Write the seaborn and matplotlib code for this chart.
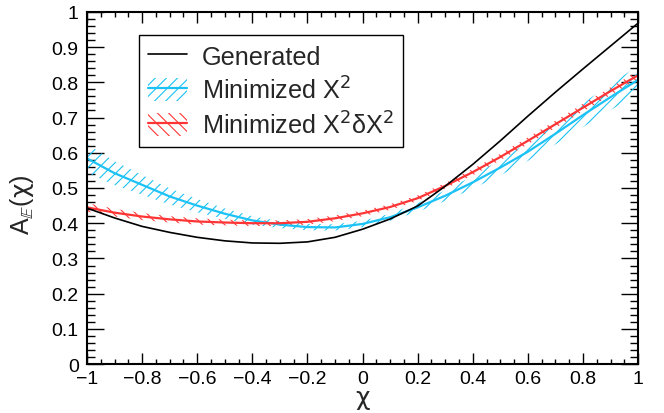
import numpy as np
import pandas as pd
import seaborn as sns
import matplotlib.pyplot as plt
from matplotlib.patches import Patch
from matplotlib.lines import Line2D
from matplotlib.ticker import MultipleLocator

# values
chi = [-1.0, -0.9, -0.8, -0.7, -0.6, -0.5, -0.4, -0.3, -0.2, -0.1, 0.0,
       0.1, 0.2, 0.3, 0.4, 0.5, 0.6, 0.7, 0.8, 0.9, 1.0]
generated = [0.443, 0.415, 0.391, 0.374, 0.360, 0.350, 0.344, 0.343, 0.347, 0.360, 0.383,
             0.412, 0.449, 0.505, 0.567, 0.634, 0.704, 0.772, 0.838, 0.903, 0.968]
min_x2 = [0.584, 0.542, 0.509, 0.476, 0.450, 0.427, 0.408, 0.396, 0.389, 0.388, 0.398,
          0.417, 0.445, 0.478, 0.516, 0.558, 0.603, 0.654, 0.707, 0.758, 0.807]
min_x2_err = [0.040, 0.034, 0.028, 0.023, 0.019, 0.015, 0.012, 0.010, 0.009, 0.009, 0.009,
              0.010, 0.012, 0.015, 0.018, 0.022, 0.026, 0.030, 0.034, 0.037, 0.040]
min_x2dx2 = [0.445, 0.430, 0.419, 0.411, 0.405, 0.402, 0.400, 0.400, 0.404, 0.414, 0.428,
             0.446, 0.471, 0.506, 0.545, 0.588, 0.634, 0.681, 0.728, 0.775, 0.820]
min_x2dx2_err = [0.012, 0.011, 0.010, 0.009, 0.009, 0.008, 0.008, 0.008, 0.008, 0.008, 0.008,
                 0.008, 0.008, 0.008, 0.009, 0.009, 0.010, 0.010, 0.011, 0.011, 0.012]

xticks = [-1, -0.8, -0.6, -0.4, -0.2, 0, 0.2, 0.4, 0.6, 0.8, 1]
xtick_labels = ['\u22121', '\u22120.8', '\u22120.6', '\u22120.4', '\u22120.2', '0',
                '0.2', '0.4', '0.6', '0.8', '1']
yticks = [0, 0.1, 0.2, 0.3, 0.4, 0.5, 0.6, 0.7, 0.8, 0.9, 1]
ytick_labels = ['0', '0.1', '0.2', '0.3', '0.4', '0.5', '0.6', '0.7', '0.8', '0.9', '1']

df = pd.DataFrame({'chi': chi, 'gen': generated, 'x2': min_x2, 'x2e': min_x2_err,
                   'xd': min_x2dx2, 'xde': min_x2dx2_err})

sns.set_style('ticks')
plt.rcParams['font.family'] = ['Liberation Sans', 'DejaVu Sans']
plt.rcParams['mathtext.fontset'] = 'dejavusans'
plt.rcParams['hatch.linewidth'] = 0.8

cyan = '#1cc2f5'
red = '#ff3535'
hatch_c = '///'
hatch_r = '\\\\\\'

fig = plt.figure(figsize=(6.64, 4.14), dpi=100)
ax = fig.add_axes([0.131, 0.118, 0.830, 0.851])

# hatched error bands
ax.fill_between(df.chi, df.x2 - df.x2e, df.x2 + df.x2e, facecolor='none',
                edgecolor=cyan, hatch=hatch_c, linewidth=0)
ax.fill_between(df.chi, df.xd - df.xde, df.xd + df.xde, facecolor='none',
                edgecolor=red, hatch=hatch_r, linewidth=0)

sns.lineplot(data=df, x='chi', y='x2', ax=ax, color=cyan, lw=1.6)
sns.lineplot(data=df, x='chi', y='xd', ax=ax, color=red, lw=1.6)
sns.lineplot(data=df, x='chi', y='gen', ax=ax, color='black', lw=1.2)

ax.set_xlim(-1, 1)
ax.set_ylim(0, 1)
ax.set_xticks(xticks, xtick_labels)
ax.set_yticks(yticks, ytick_labels)
ax.xaxis.set_minor_locator(MultipleLocator(0.05))
ax.yaxis.set_minor_locator(MultipleLocator(0.02))
ax.tick_params(which='both', direction='in', top=True, right=True, width=1.0,
               labelsize=14, colors='black')
ax.tick_params(axis='x', which='major', length=7.6, pad=4)
ax.tick_params(axis='x', which='minor', length=3.8)
ax.tick_params(axis='y', which='major', length=11.9, pad=6)
ax.tick_params(axis='y', which='minor', length=6)
for s in ax.spines.values():
    s.set_linewidth(1.5)
    s.set_color('black')

ax.set_xlabel(r'$\mathrm{\chi}$', fontsize=18)
ax.set_ylabel(r'A$_{\mathbb{E}}$($\mathrm{\chi}$)', fontsize=18)
ax.xaxis.set_label_coords(0.5, -0.10)
ax.yaxis.set_label_coords(-0.118, 0.455)
ax.xaxis.label.set_va('center')
ax.yaxis.label.set_va('center')

h_gen = Line2D([], [], color='black', lw=1.2)
h_x2 = (Patch(facecolor='none', edgecolor=cyan, hatch=hatch_c, linewidth=0),
        Line2D([], [], color=cyan, lw=1.6))
h_xd = (Patch(facecolor='none', edgecolor=red, hatch=hatch_r, linewidth=0),
        Line2D([], [], color=red, lw=1.6))
leg = ax.legend([h_gen, h_x2, h_xd],
                ['Generated', 'Minimized X$^2$', 'Minimized X$^2$\u03b4X$^2$'],
                loc='upper left', bbox_to_anchor=(0.094, 0.935), borderaxespad=0,
                fontsize=18.2, frameon=True, fancybox=False, framealpha=1,
                edgecolor='black', borderpad=0.35, handlelength=1.55,
                handleheight=1.0, handletextpad=0.6, labelspacing=0.3)
leg.get_frame().set_linewidth(1.0)

fig.savefig('out.png', dpi=100)
